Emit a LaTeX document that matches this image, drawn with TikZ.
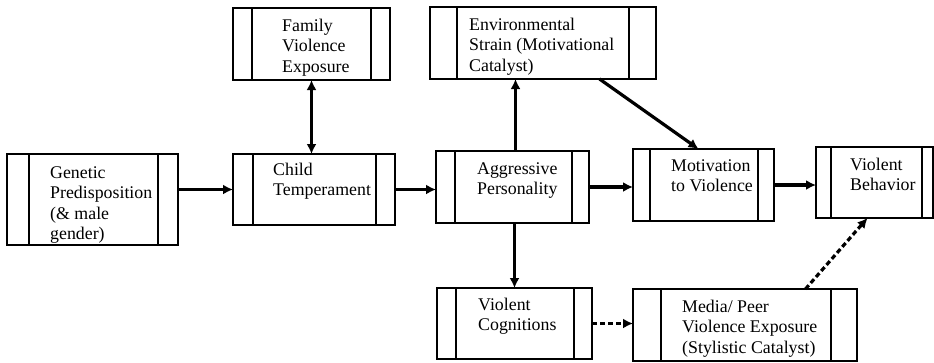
\documentclass[tikz,border=0pt]{standalone}
\usepackage{fontspec}
\setmainfont{Liberation Serif}
\usetikzlibrary{arrows.meta,fit,calc}
\newcommand\pbox[7]{%
  \coordinate (#1-a) at (#2,#3);
  \coordinate (#1-b) at (#4,#5);
  \node[boxst, fit=(#1-a)(#1-b)] (#1) {};
  \draw[barst] (#6,#3) -- (#6,#5) (#7,#3) -- (#7,#5);
}
\begin{document}
\begin{tikzpicture}[x=1bp,y=-1bp,
  boxst/.style={draw, line width=1.6bp, inner sep=0pt, outer sep=0pt},
  barst/.style={line width=1.6bp},
  lbl/.style={anchor=base west, align=left, inner sep=0pt, font=\fontsize{17.9}{20.6}\selectfont},
  arr/.style={line width=3.2bp, -{Latex[length=10bp,width=10bp]}},
  darr/.style={arr, dash pattern=on 5bp off 3bp},
  barr/.style={line width=3.2bp, {Latex[length=10bp,width=10bp]}-{Latex[length=10bp,width=10bp]}},
]
\useasboundingbox (0,0) rectangle (934,362);

\pbox{gen}{7}{154}{178}{245}{29}{158}
\pbox{fam}{233}{8}{390}{80}{252}{371}
\pbox{child}{233}{154}{395}{225}{253}{376}
\pbox{env}{430}{7}{656}{79}{457}{629}
\pbox{agg}{436}{151}{589}{223}{455}{572}
\pbox{mot}{633}{149}{774}{221}{650}{758}
\pbox{vb}{816}{147}{933}{218}{831}{922}
\pbox{vc}{437}{288}{592}{359}{456}{574}
\pbox{media}{633}{289}{857}{361}{661}{831}

% anchor base = baseline of the last line
\node[lbl] (gen-t) at (50,239.8) {Genetic\\Predisposition\\(\& male\\gender)};
\node[lbl] (fam-t) at (282,72.2) {Family\\Violence\\Exposure};
\node[lbl] (child-t) at (273,195.6) {Child\\Temperament};
\node[lbl] (env-t) at (469,71.2) {Environmental\\Strain (Motivational\\Catalyst)};
\node[lbl] (agg-t) at (477,194.6) {Aggressive\\Personality};
\node[lbl] (mot-t) at (671,191.6) {Motivation\\to Violence};
\node[lbl] (vb-t) at (850,190.6) {Violent\\Behavior};
\node[lbl] (vc-t) at (478,330.6) {Violent\\Cognitions};
\node[lbl] (media-t) at (682,353.2) {Media/ Peer\\Violence Exposure\\(Stylistic Catalyst)};

\draw[arr] (child.west -| gen.east) -- (child.west);
\draw[barr] (fam.south) -- (fam.south |- child.north);
\draw[arr] (child.east) -- (child.east -| agg.west);
\draw[arr] ([xshift=3bp]agg.north) -- ([xshift=3bp]agg.north |- env.south);
\draw[arr] (agg.east) -- (agg.east -| mot.west);
\draw[arr] (mot.east) -- (mot.east -| vb.west);
\draw[arr] (agg.south -| vc.north) -- (vc.north);
\draw[arr] ($(env.south west)!0.75!(env.south east)$) -- ([xshift=-5bp]mot.north);
\draw[darr] (vc.east) -- (vc.east -| media.west);
\draw[darr] ($(media.north west)!0.77!(media.north east)$) -- ($(vb.south west)!0.44!(vb.south east)$);
\end{tikzpicture}
\end{document}
